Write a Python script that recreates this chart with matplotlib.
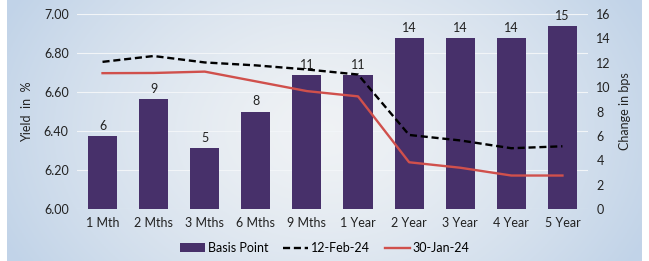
import numpy as np
import matplotlib
matplotlib.use("Agg")
import matplotlib.pyplot as plt

plt.rcParams['font.family'] = ['Lato', 'DejaVu Sans']

# data
tenors = ['1 Mth', '2 Mths', '3 Mths', '6 Mths', '9 Mths',
          '1 Year', '2 Year', '3 Year', '4 Year', '5 Year']
basis_point = [6, 9, 5, 8, 11, 11, 14, 14, 14, 15]
yield_12feb = [6.755, 6.785, 6.752, 6.737, 6.716, 6.690, 6.380, 6.352, 6.312, 6.322]
yield_30jan = [6.697, 6.698, 6.705, 6.655, 6.605, 6.578, 6.240, 6.212, 6.172, 6.172]

fig = plt.figure(figsize=(6.49, 2.61), dpi=100)

# soft blue-grey backdrop
bg = fig.add_axes([0.011, 0, 0.978, 1], zorder=-10)
gx = np.linspace(-1, 1, 300)
gy = np.linspace(-1, 1, 120)
X, Y = np.meshgrid(gx, gy)
r = np.clip(np.sqrt((X * 0.9) ** 2 + (Y * 0.5) ** 2), 0, 1)
c_in = np.array([0.94, 0.95, 0.96])
c_out = np.array([0.76, 0.83, 0.91])
img = c_in + (c_out - c_in) * r[..., None] ** 1.4
bg.imshow(img, aspect='auto', extent=[0, 1, 0, 1])
bg.axis('off')

ax = fig.add_axes([0.1186, 0.199, 0.7874, 0.747])
ax.patch.set_alpha(0)
ax2 = ax.twinx()
ax.set_zorder(2)
ax2.set_zorder(1)

x = np.arange(len(tenors))
bars = ax2.bar(x, basis_point, width=0.57, color='#47306a', label='Basis Point')
for xi, v in zip(x, basis_point):
    ax2.text(xi, v + 0.35, str(v), ha='center', va='bottom', fontsize=9, color='#222222')
ax2.set_ylim(0, 16)
ax2.set_yticks(range(0, 17, 2))
ax2.set_ylabel('Change in bps', fontsize=9, color='#222222', labelpad=6)

l1, = ax.plot(x, yield_12feb, color='black', lw=1.7, ls=(0, (3, 1.6)), label='12-Feb-24')
l2, = ax.plot(x, yield_30jan, color='#d0504c', lw=1.7, label='30-Jan-24')
ax.set_ylim(6.0, 7.0)
ax.set_yticks(np.arange(6.0, 7.01, 0.2))
ax.set_yticklabels([f'{v:.2f}' for v in np.arange(6.0, 7.01, 0.2)])
ax.set_ylabel('Yield  in  %', fontsize=9, color='#222222', labelpad=8)
ax.set_xlim(-0.5, len(tenors) - 0.5)
ax.set_xticks(x)
ax.set_xticklabels(tenors)

ax2.grid(False)
for v in np.arange(6.0, 7.01, 0.2):
    ax2.axhline((v - 6.0) * 16, color='#f2f5f8', lw=0.8, zorder=0)

for a in (ax, ax2):
    for s in a.spines.values():
        s.set_visible(False)
    a.tick_params(length=0, labelsize=9, colors='#222222', pad=6)

fig.legend([bars, l1, l2], ['Basis Point', '12-Feb-24', '30-Jan-24'],
           loc='center', bbox_to_anchor=(0.5, 0.05), ncol=3, frameon=False,
           fontsize=9, handlelength=2.0, columnspacing=1.2, handletextpad=0.2)

fig.savefig('out.png', dpi=100)
